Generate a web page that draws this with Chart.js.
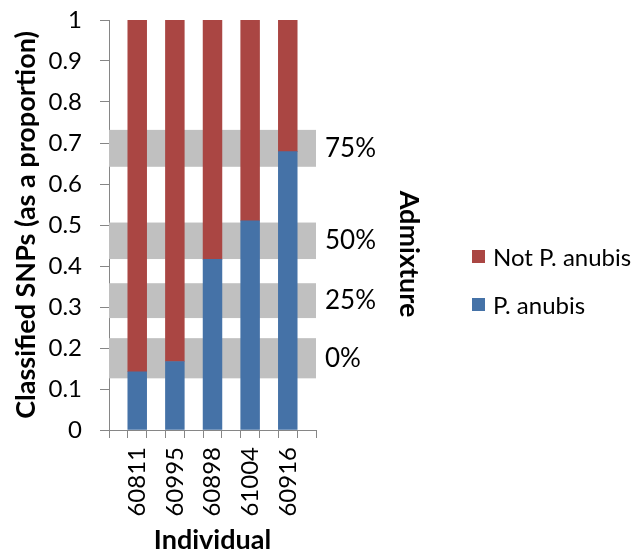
<!DOCTYPE html>
<html>
<head>
<meta charset="utf-8">
<script src="https://cdn.jsdelivr.net/npm/chart.js@4.4.1/dist/chart.umd.min.js"></script>
<style>
  html, body { margin: 0; padding: 0; background: #fff; }
  #wrap { width: 638px; height: 554px; position: relative; }
</style>
</head>
<body>
<div id="wrap"><canvas id="c"></canvas></div>
<script>
// Individuals and the proportion of classified SNPs in each class
const individuals = ['60811', '60995', '60898', '61004', '60916'];
const anubis      = [0.142, 0.167, 0.416, 0.510, 0.679];
const notAnubis   = [0.858, 0.833, 0.584, 0.490, 0.321];

// Reference admixture bands (lower / upper proportion) and their labels
const bandLow    = [0.126, 0.273, 0.417, 0.642];
const bandHigh   = [0.224, 0.358, 0.506, 0.732];
const bandLabels = ['0%', '25%', '50%', '75%'];

const seriesNames  = ['P. anubis', 'Not P. anubis'];
const seriesColors = ['#4572A7', '#AA4643'];

// Each individual sits in every other slot of the category axis
const slotLabels = [''];
const slotAnubis = [null];
const slotNot = [null];
individuals.forEach((id, i) => {
  slotLabels.push(id, '');
  slotAnubis.push(anubis[i], null);
  slotNot.push(notAnubis[i], null);
});
const bandCenters = bandLow.map((lo, i) => (lo + bandHigh[i]) / 2);

const AXIS = '#868686';
const FONT = 'Lato';
Chart.defaults.font.family = FONT;
Chart.defaults.color = '#000';

// Grey admixture bands drawn behind the bars
const bandsPlugin = {
  id: 'bands',
  beforeDatasetsDraw(chart) {
    const { ctx, chartArea } = chart;
    const y = chart.scales.y;
    ctx.save();
    ctx.fillStyle = '#C0C0C0';
    bandLow.forEach((lo, i) => {
      const top = y.getPixelForValue(bandHigh[i]);
      const bot = y.getPixelForValue(lo);
      ctx.fillRect(chartArea.left, top, chartArea.right - chartArea.left, bot - top);
    });
    ctx.restore();
  }
};

// "Admixture" title beside the band labels, and the legend further right
const sidePlugin = {
  id: 'sideText',
  afterDraw(chart) {
    const { ctx } = chart;
    ctx.save();
    ctx.translate(409, 254);
    ctx.rotate(Math.PI / 2);
    ctx.font = `bold 27px ${FONT}`;
    ctx.fillStyle = '#000';
    ctx.textAlign = 'center';
    ctx.textBaseline = 'middle';
    ctx.fillText('Admixture', 0, 0);
    ctx.restore();

    const x = 472, rows = [257, 305];
    ctx.save();
    ctx.font = `24px ${FONT}`;
    ctx.textBaseline = 'middle';
    ctx.textAlign = 'left';
    [1, 0].forEach((di, r) => {
      const ds = chart.data.datasets[di];
      ctx.fillStyle = ds.backgroundColor;
      ctx.fillRect(x, rows[r] - 7, 13, 13);
      ctx.fillStyle = '#000';
      ctx.fillText(ds.label, x + 21, rows[r] + 1);
    });
    ctx.restore();
  }
};

new Chart(document.getElementById('c'), {
  type: 'bar',
  data: {
    labels: slotLabels,
    datasets: [
      { label: seriesNames[0], data: slotAnubis, backgroundColor: seriesColors[0],
        barPercentage: 1, categoryPercentage: 1, yAxisID: 'y' },
      { label: seriesNames[1], data: slotNot, backgroundColor: seriesColors[1],
        barPercentage: 1, categoryPercentage: 1, yAxisID: 'y' }
    ]
  },
  options: {
    responsive: true,
    maintainAspectRatio: false,
    animation: false,
    layout: { padding: { top: 20, left: 0, right: 212, bottom: 0 } },
    plugins: { legend: { display: false }, tooltip: { enabled: false } },
    scales: {
      x: {
        stacked: true,
        offset: true,
        grid: { display: true, drawOnChartArea: false, offset: true, tickLength: 8, color: AXIS },
        border: { color: AXIS },
        ticks: { autoSkip: false, minRotation: 90, maxRotation: 90, padding: 9,
                 font: { size: 24 }, color: '#000' },
        title: { display: true, text: 'Individual', font: { size: 27, weight: 'bold', lineHeight: 1 },
                 padding: { top: 0, bottom: 0 } },
        afterFit(s) { s.height = 124; s.paddingLeft = 0; s.paddingRight = 0; }
      },
      y: {
        stacked: true,
        min: 0, max: 1,
        ticks: { stepSize: 0.1, padding: 18, font: { size: 24 }, color: '#000',
                 callback: v => String(+v.toFixed(1)) },
        grid: { drawOnChartArea: false, tickLength: 9, color: AXIS },
        border: { color: AXIS },
        title: { display: true, text: 'Classified SNPs (as a proportion)',
                 font: { size: 27, weight: 'bold', lineHeight: 1 }, padding: { top: 13, bottom: 0 } },
        afterFit(s) { s.width = 109; s.paddingTop = 0; s.paddingBottom = 0; }
      },
      y2: {
        position: 'right',
        min: 0, max: 1,
        afterBuildTicks(s) { s.ticks = bandCenters.map(v => ({ value: v })); },
        ticks: { callback: (v, i) => bandLabels[i], padding: 9, font: { size: 26 }, color: '#000' },
        grid: { display: false, drawTicks: false },
        border: { display: false },
        afterFit(s) { s.width = 110; s.paddingTop = 0; s.paddingBottom = 0; }
      }
    }
  },
  plugins: [bandsPlugin, sidePlugin]
});
</script>
</body>
</html>
